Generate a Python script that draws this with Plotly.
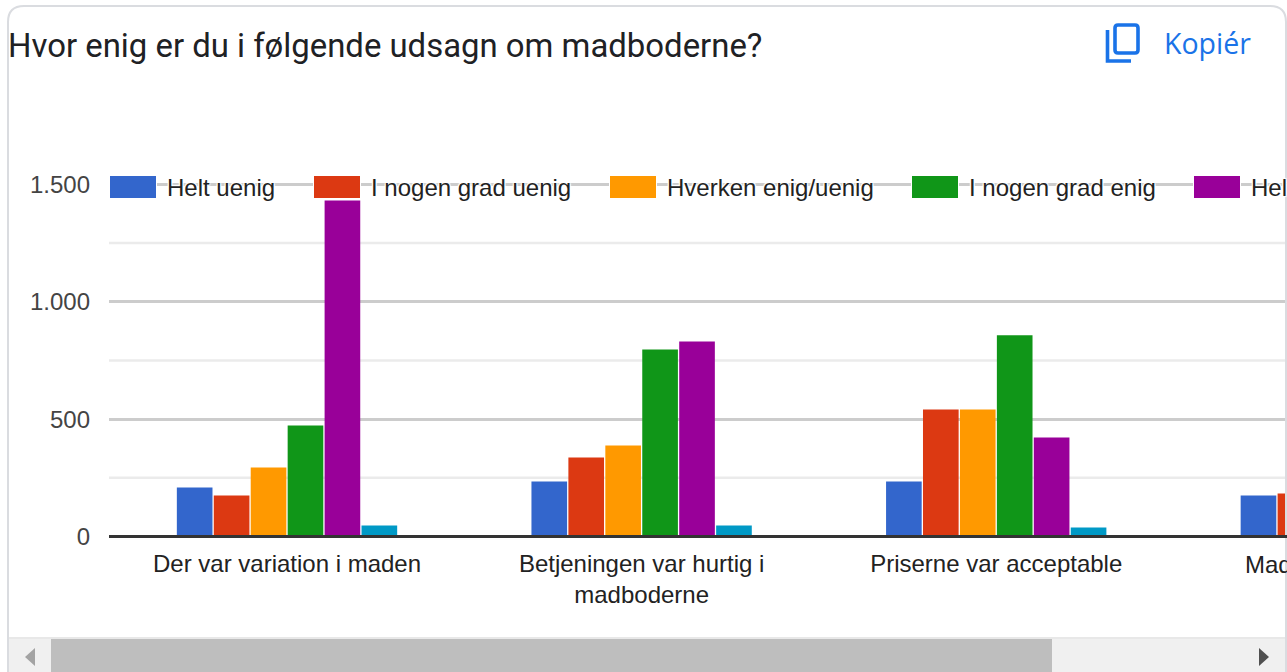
"""Google Forms style grouped bar chart: Hvor enig er du i følgende udsagn om madboderne?"""

import plotly.graph_objects as go

# Data (the 4th group runs out of view, only two bars show)
categories = ['Der var variation i maden', 'Betjeningen var hurtig i<br>madboderne',
              'Priserne var acceptable', 'Mad']
series_names = ['Helt uenig', 'I nogen grad uenig', 'Hverken enig/uenig',
                'I nogen grad enig', 'Helt enig', 'Ved ikke']
helt_uenig = [209, 234, 234, 175]
nogen_uenig = [175, 337, 541, 183]
hverken = [294, 388, 541, None]
nogen_enig = [473, 797, 857, None]
helt_enig = [1432, 831, 422, None]
ved_ikke = [47, 47, 38, None]
series_values = [helt_uenig, nogen_uenig, hverken, nogen_enig, helt_enig, ved_ikke]
colors = ['#3366cc', '#dc3912', '#ff9900', '#109618', '#990099', '#0099c6']

major_ticks = [0, 500, 1000, 1500]
major_labels = ['0', '500', '1.000', '1.500']
minor_ticks = [250, 750, 1250]

# Page geometry
W, H = 1287, 672
PLOT_LEFT, PLOT_TOP, PLOT_BOTTOM = 109, 176, 536.5
Y_TOP = 1536  # a little above 1500 so that the top gridline is drawn in full
LEGEND_SWATCH_X = [110, 314, 610, 912, 1194]
LEGEND_TEXT_X = [166, 370, 666, 968, 1250]


def fx(px):
    return px / W


def fy(py):
    return 1 - py / H


HALO = '1px 1px 1px #fff, -1px -1px 1px #fff, 1px -1px 1px #fff, -1px 1px 1px #fff'

fig = go.Figure()

for name, values, color in zip(series_names, series_values, colors):
    fig.add_trace(go.Bar(
        x=list(range(len(categories))),
        y=values,
        name=name,
        marker=dict(color=color, line=dict(width=0)),
    ))

shapes = []
annotations = []


def rect(x0, y0, x1, y1, color, layer='above'):
    shapes.append(dict(type='rect', xref='paper', yref='paper', x0=fx(x0), x1=fx(x1),
                       y0=fy(y0), y1=fy(y1), fillcolor=color, line=dict(width=0), layer=layer))


def path(points, color, width=0, fill=None, layer='above'):
    d = 'M' + ' L'.join(f'{fx(x):.5f},{fy(y):.5f}' for x, y in points)
    if fill:
        d += ' Z'
    shapes.append(dict(type='path', xref='paper', yref='paper', path=d, layer=layer,
                       fillcolor=fill or 'rgba(0,0,0,0)',
                       line=dict(color=color, width=width)))


def rounded(x0, y0, x1, y1, r, color, width):
    d = (f'M{fx(x0 + r)},{fy(y0)} L{fx(x1 - r)},{fy(y0)} Q{fx(x1)},{fy(y0)} {fx(x1)},{fy(y0 + r)} '
         f'L{fx(x1)},{fy(y1 - r)} Q{fx(x1)},{fy(y1)} {fx(x1 - r)},{fy(y1)} '
         f'L{fx(x0 + r)},{fy(y1)} Q{fx(x0)},{fy(y1)} {fx(x0)},{fy(y1 - r)} '
         f'L{fx(x0)},{fy(y0 + r)} Q{fx(x0)},{fy(y0)} {fx(x0 + r)},{fy(y0)} Z')
    shapes.append(dict(type='path', xref='paper', yref='paper', path=d, layer='above',
                       line=dict(color=color, width=width)))


def label(x, y, text, size, color, family='Liberation Sans', anchor='left', shadow=None, weight=None):
    font = dict(family=family, size=size, color=color)
    if shadow:
        font['shadow'] = shadow
    if weight:
        font['weight'] = weight
    annotations.append(dict(xref='paper', yref='paper', x=fx(x), y=fy(y), text=text,
                            showarrow=False, xanchor=anchor, yanchor='middle',
                            font=font, borderpad=0))


# Minor gridlines
for v in minor_ticks:
    shapes.append(dict(type='line', xref='paper', yref='paper', x0=fx(PLOT_LEFT), x1=1,
                       y0=fy(PLOT_BOTTOM - (PLOT_BOTTOM - PLOT_TOP) * v / Y_TOP),
                       y1=fy(PLOT_BOTTOM - (PLOT_BOTTOM - PLOT_TOP) * v / Y_TOP),
                       line=dict(color='#ebebeb', width=2.5), layer='below'))

# Legend, drawn by hand because the swatches are wider than Plotly's bar swatches
for i, sx in enumerate(LEGEND_SWATCH_X):
    rect(sx - 1, 174, sx + 47, 200, '#ffffff')
    rect(sx, 176, sx + 46, 198, colors[i])
    label(LEGEND_TEXT_X[i], 187, series_names[i], 24, '#222222', shadow=HALO)

# Card border
r = 16
shapes.append(dict(type='path', xref='paper', yref='paper', layer='above',
                   path=(f'M{fx(8)},{fy(672)} L{fx(8)},{fy(6 + r)} '
                         f'Q{fx(8)},{fy(6)} {fx(8 + r)},{fy(6)} '
                         f'L{fx(1286 - r)},{fy(6)} Q{fx(1286)},{fy(6)} {fx(1286)},{fy(6 + r)} '
                         f'L{fx(1286)},{fy(672)}'),
                   line=dict(color='#dadce0', width=2)))

# Copy button
path([(1107.5, 30), (1107.5, 61), (1131, 61)], '#1a73e8', width=3.6)
rounded(1115, 25, 1138, 53, 3, '#1a73e8', 3.6)
label(1163, 43, 'Kopiér', 28.5, '#1a73e8', family='Open Sans', weight=500)

# Title
label(7, 46, 'Hvor enig er du i følgende udsagn om madboderne?', 32.9, '#202124', family='Roboto')

# Tick label of the group that runs past the right edge
label(1244, 564, categories[3], 24, '#222222')

# Dark baseline on top of the bars
rect(PLOT_LEFT, 535, W, 538, '#333333')

# Scrollbar
rect(9, 637, 1285, 672, '#f0f0f0')
rect(9, 637, 1285, 639, '#e8e8e8')
rect(51, 639, 1052, 672, '#bebebe')
path([(35, 648), (35, 666), (25, 657)], '#a3a3a3', fill='#a3a3a3')
path([(1259, 648), (1259, 666), (1269, 657)], '#505050', fill='#505050')

fig.update_layout(
    width=W,
    height=H,
    margin=dict(l=0, r=0, t=0, b=0, pad=0),
    paper_bgcolor='white',
    plot_bgcolor='white',
    showlegend=False,
    barmode='group',
    bargap=0.375,
    bargroupgap=0.035,
    shapes=shapes,
    annotations=annotations,
    xaxis=dict(
        domain=[fx(PLOT_LEFT), 1],
        range=[-0.502, 2.82],
        tickmode='array',
        tickvals=list(range(len(categories))),
        ticktext=categories,
        showgrid=False,
        ticks='',
        showline=False,
        zeroline=False,
        ticklabelstandoff=10,
        tickfont=dict(family='Liberation Sans', size=24, color='#222222'),
        automargin=False,
    ),
    yaxis=dict(
        domain=[fy(PLOT_BOTTOM), fy(PLOT_TOP)],
        range=[0, Y_TOP],
        tickmode='array',
        tickvals=major_ticks,
        ticktext=major_labels,
        showgrid=True,
        gridcolor='#cccccc',
        gridwidth=2.5,
        zeroline=False,
        ticks='',
        ticklabelstandoff=18,
        tickfont=dict(family='Liberation Sans', size=24, color='#444444'),
        automargin=False,
    ),
)

fig.write_html("out.html", config={'displayModeBar': False},
               post_script="document.body.style.margin='0';document.body.style.overflow='hidden';")
